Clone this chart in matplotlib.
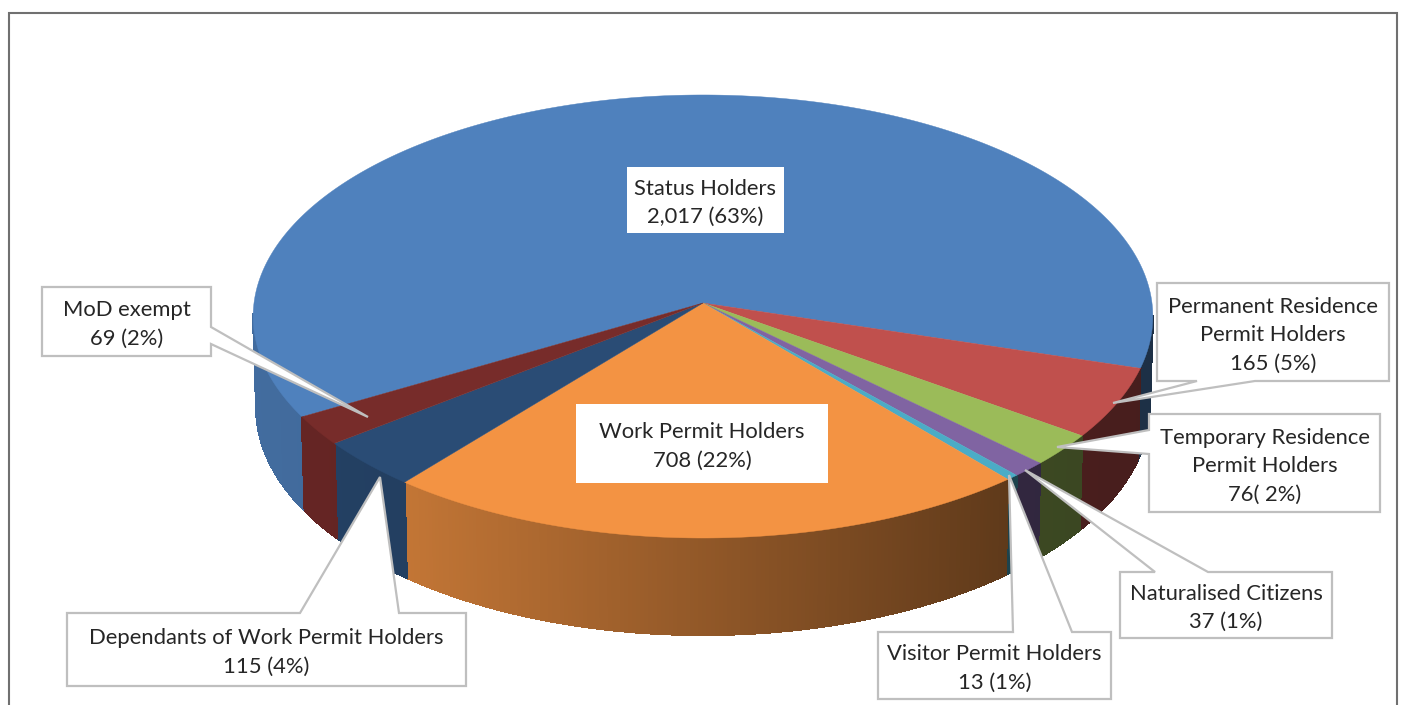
import matplotlib
matplotlib.use("Agg")
import matplotlib.pyplot as plt
from matplotlib.collections import PolyCollection
from matplotlib.patches import Polygon, Rectangle
from matplotlib.colors import to_rgb
import numpy as np

# values going clockwise, starting from Status Holders
categories = ["Status Holders", "Permanent Residence\nPermit Holders", "Temporary Residence\nPermit Holders",
              "Naturalised Citizens", "Visitor Permit Holders", "Work Permit Holders",
              "Dependants of Work Permit Holders", "MoD exempt"]
values = [2017, 165, 76, 37, 13, 708, 115, 69]
value_labels = ["2,017 (63%)", "165 (5%)", "76( 2%)", "37 (1%)", "13 (1%)", "708 (22%)", "115 (4%)", "69 (2%)"]
colors = ["#4F81BD", "#C0504D", "#9BBB59", "#8064A2", "#4BACC6", "#F39343", "#2A4C75", "#772C2A"]

start_angle = 240.0

# pie geometry, in pixels of the picture
cx, cy = 703, 303
R = 449
a = 220.7
k = 0.0609


def top_ring(theta):
    # theta in degrees clockwise from the back of the pie
    t = np.radians(theta)
    u = np.sin(t)
    v = -np.cos(t)
    d = 1 - k * v
    return cx + R * u / d, cy + a * v / d


def bottom_ring(theta):
    x, y = top_ring(theta)
    return cx + 0.993 * (x - cx), cy + 91 + 1.025 * (y - cy)


def wall_shade(x):
    return np.interp(x, [253, 405, 1010, 1153], [0.84, 0.80, 0.39, 0.37])


fig = plt.figure(figsize=(14.02, 7.05), dpi=100)
ax = fig.add_axes([0, 0, 1, 1])
ax.set_xlim(0, 1402)
ax.set_ylim(705, 0)
ax.axis("off")

# frame of the chart, cut off at the bottom
ax.plot([9, 9, 1397, 1397], [705, 13, 13, 705], color="#707070", lw=1.5, solid_joinstyle="miter")

angles = start_angle + np.cumsum([0] + list(values)) / sum(values) * 360

# outer walls, split in thin strips for the shading
quads = []
quad_colors = []
for i in range(len(values)):
    n = max(int((angles[i + 1] - angles[i]) * 2), 2)
    th = np.linspace(angles[i], angles[i + 1], n + 1)
    for t0, t1 in zip(th[:-1], th[1:]):
        # only the part facing the viewer
        if np.cos(np.radians(t0)) > -0.06 and np.cos(np.radians(t1)) > -0.06:
            continue
        x0, y0 = top_ring(t0)
        x1, y1 = top_ring(t1)
        x2, y2 = bottom_ring(t1)
        x3, y3 = bottom_ring(t0)
        quads.append([(x0, y0), (x1, y1), (x2, y2), (x3, y3)])
        base = np.array(to_rgb(colors[i]))
        if i >= 6:
            base = base * 1.03
        quad_colors.append(tuple(np.clip(base * wall_shade((x0 + x1) / 2), 0, 1)))
ax.add_collection(PolyCollection(quads, facecolors=quad_colors, edgecolors=quad_colors, linewidths=1.0,
                                 antialiaseds=False, zorder=2))

# top face
for i in range(len(values)):
    th = np.linspace(angles[i], angles[i + 1], max(int(angles[i + 1] - angles[i]) * 2, 4))
    xs, ys = top_ring(th)
    pts = [(cx, cy)] + list(zip(xs, ys))
    ax.add_patch(Polygon(pts, closed=True, facecolor=colors[i], edgecolor=colors[i], lw=0.3, zorder=3))

line_color = "#BFBFBF"
text_color = "#262626"
font = "Lato"
size = 15.8


def callout(box, side, base0, base1, tip):
    left, top, right, bottom = box
    if side == "bottom":
        pts = [(left, top), (right, top), (right, bottom), (base1, bottom), tip, (base0, bottom), (left, bottom)]
    elif side == "top":
        pts = [(left, top), (base0, top), tip, (base1, top), (right, top), (right, bottom), (left, bottom)]
    elif side == "left":
        pts = [(left, top), (right, top), (right, bottom), (left, bottom), (left, base1), tip, (left, base0)]
    else:
        pts = [(left, top), (right, top), (right, base0), tip, (right, base1), (right, bottom), (left, bottom)]
    ax.add_patch(Polygon(pts, closed=True, facecolor="white", edgecolor=line_color, lw=1.6,
                         joinstyle="miter", zorder=5))


def label(i, box):
    s = categories[i] + "\n" + value_labels[i]
    ax.text((box[0] + box[2]) / 2, (box[1] + box[3]) / 2 + 3, s, ha="center", va="center", color=text_color,
            fontsize=size, family=font, linespacing=1.53, zorder=6)


# plain white boxes inside the pie
plain_boxes = {0: (627, 167, 784, 233), 5: (576, 404, 828, 483)}
for i, box in plain_boxes.items():
    ax.add_patch(Rectangle((box[0], box[1]), box[2] - box[0], box[3] - box[1], facecolor="white",
                           edgecolor="none", zorder=5))
    label(i, box)

# index: box, side of the wedge, wedge base, wedge tip
callouts = {
    1: ((1157, 283, 1389, 381), "bottom", 1197, 1255, (1113, 403)),
    2: ((1149, 414, 1380, 512), "left", 430, 454, (1057, 447)),
    3: ((1120, 572, 1332, 638), "top", 1155, 1208, (1025, 470)),
    4: ((878, 632, 1111, 699), "top", 1013, 1072, (1009, 475)),
    6: ((67, 613, 466, 686), "top", 300, 399, (380, 477)),
    7: ((42, 287, 211, 356), "right", 327, 344, (368, 417)),
}
for i, (box, side, b0, b1, tip) in callouts.items():
    callout(box, side, b0, b1, tip)
    label(i, box)

fig.savefig("out.png", dpi=100)
